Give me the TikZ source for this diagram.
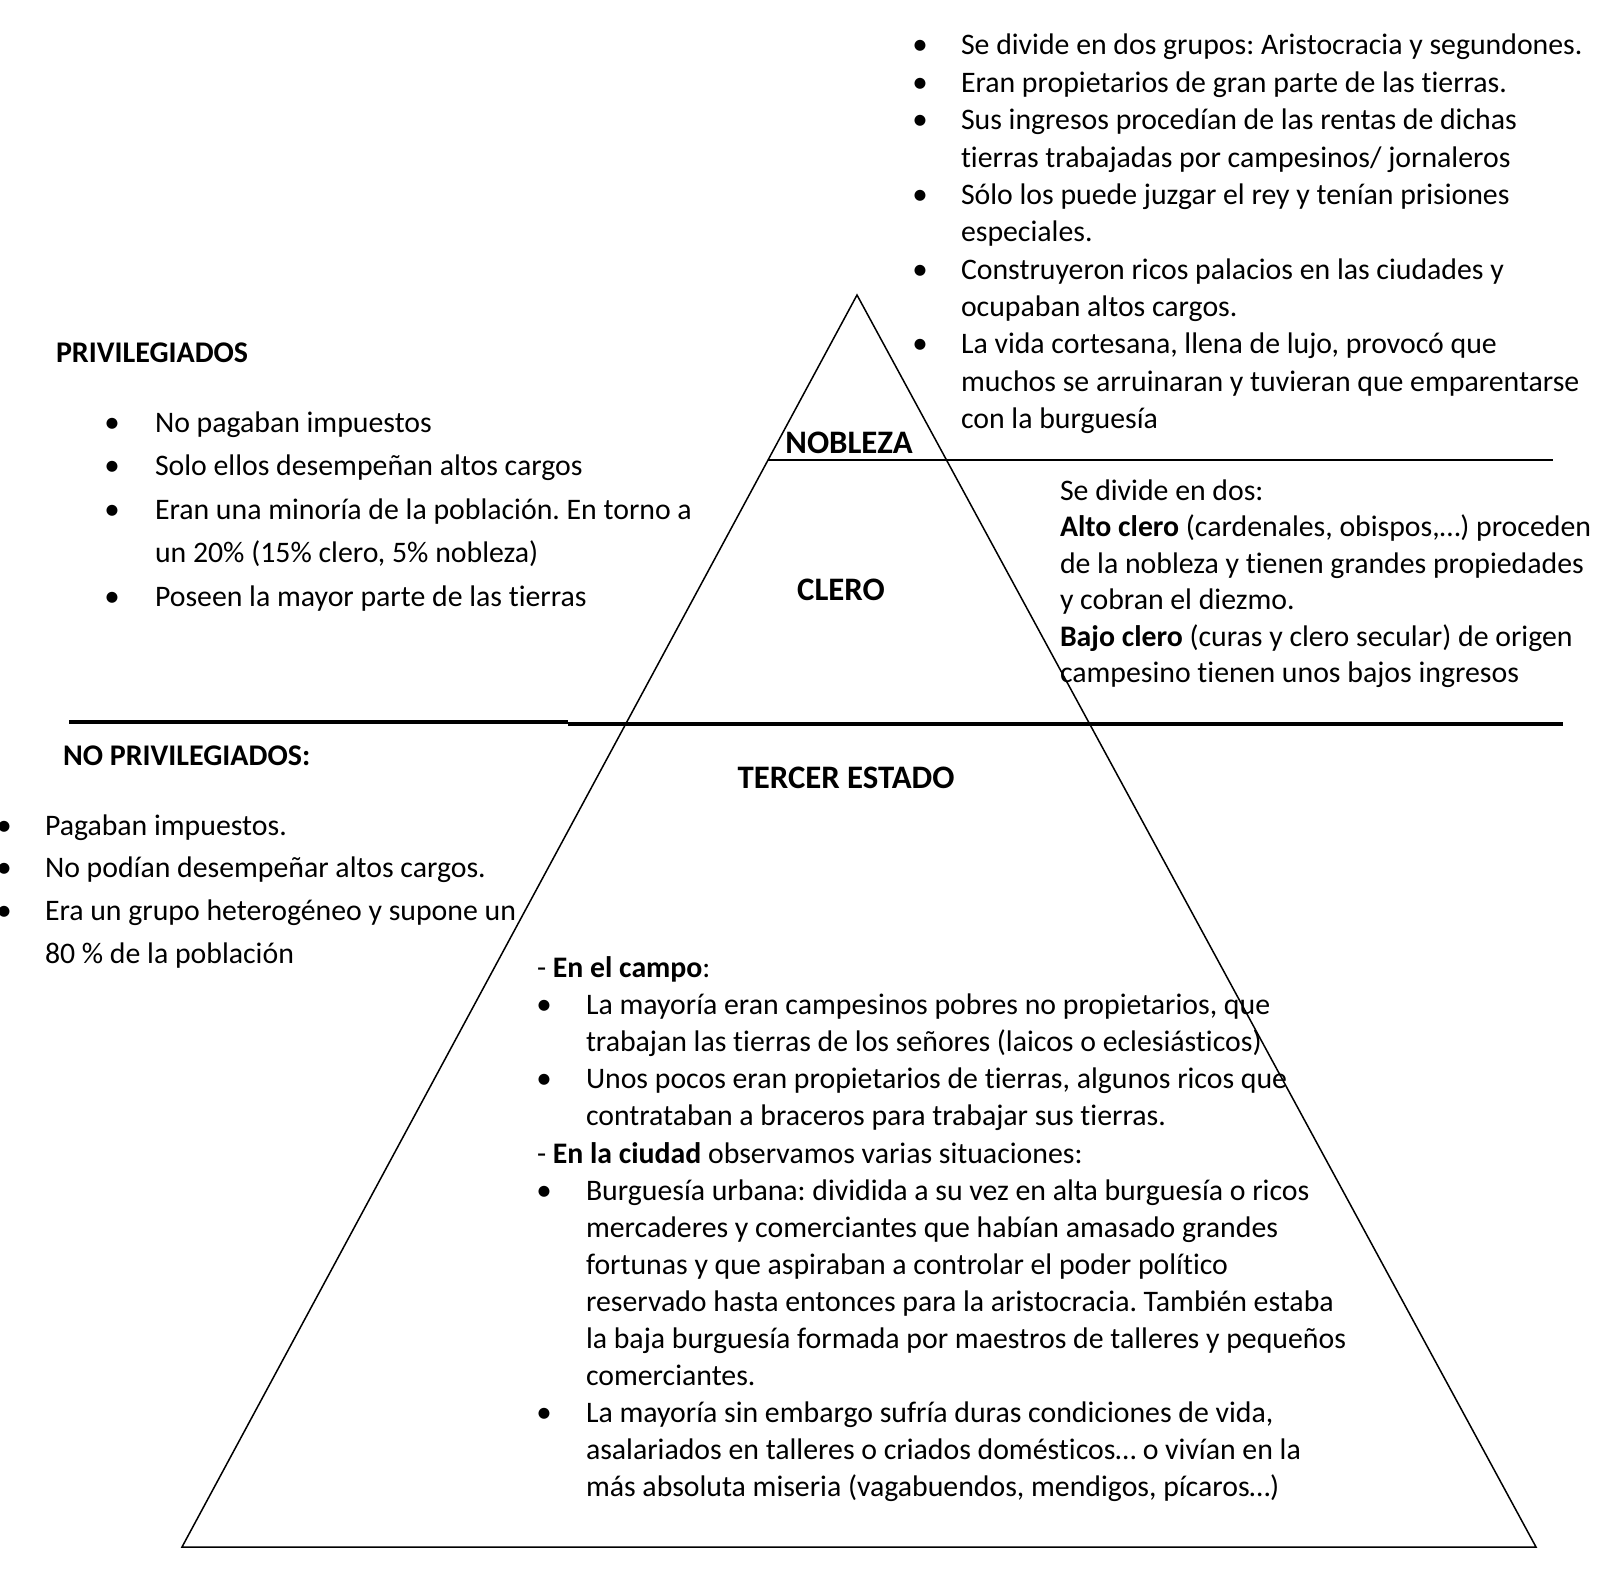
\documentclass[tikz,border=0pt]{standalone}
\usepackage{fontspec}
\setmainfont{Carlito}[Ligatures=NoCommon]
\newcommand\bsym{{\fontsize{31}{31}\selectfont •}}
\newcommand\bitem[1]{\leavevmode\llap{\makebox[0pt]{\bsym}\hspace{#1}}}
\newcommand\blk[2]{\parbox[t]{900pt}{\raggedright\frenchspacing\fontsize{29.8}{#1}\selectfont #2}}
\begin{document}
\begin{tikzpicture}[x=1pt,y=-1pt]
\useasboundingbox (0,0) rectangle (1600,1576);
\tikzset{
  txt/.style={anchor=base west, inner sep=0pt, outer sep=0pt},
  hd/.style={inner sep=0pt, outer sep=0pt, font=\fontsize{30}{32}\selectfont\bfseries},
  hdp/.style={inner sep=0pt, outer sep=0pt, font=\fontsize{32.8}{34}\selectfont\bfseries},
  thin/.style={line width=1.5pt},
  thick/.style={line width=4.5pt}
}
% pyramid
\coordinate (apex) at (857,295);
\coordinate (bleft) at (182,1547);
\coordinate (bright) at (1536,1547);
\draw[thin] (apex) -- (bleft) -- (bright) -- cycle;
% dividing lines
\coordinate (n1) at (768,460);
\coordinate (n2) at (1553,460);
\draw[thin] (n1) -- (n2);
\coordinate (t1) at (69,722);
\coordinate (t2) at (568,722);
\coordinate (t3) at (568,724);
\coordinate (t4) at (1563,724);
\draw[thick] (t1) -- (t2);
\draw[thick] (t3) -- (t4);
% labels in pyramid
\node[hdp, anchor=base] (nobleza) at (849,453) {NOBLEZA};
\node[hdp, anchor=base] (clero) at (841,600) {CLERO};
\node[hdp, anchor=base] (tercer) at (846,788) {TERCER ESTADO};
\node[hd, anchor=base west] (priv) at (56,362) {PRIVILEGIADOS};
\node[hd, anchor=base west] (nopriv) at (63,765) {NO PRIVILEGIADOS:};
% top right
\node[txt] (nobtext) at (961,55) {\blk{37.35pt}{%
\bitem{41pt}Se divide en dos grupos: Aristocracia y segundones.\\
\bitem{41pt}Eran propietarios de gran parte de las tierras.\\
\bitem{41pt}Sus ingresos procedían de las rentas de dichas\\
tierras trabajadas por campesinos/ jornaleros\\
\bitem{41pt}Sólo los puede juzgar el rey y tenían prisiones\\
especiales.\\
\bitem{41pt}Construyeron ricos palacios en las ciudades y\\
ocupaban altos cargos.\\
\bitem{41pt}La vida cortesana, llena de lujo, provocó que\\
muchos se arruinaran y tuvieran que emparentarse\\
con la burguesía}};
% privileged
\node[txt] (privtext) at (155,432) {\blk{43.6pt}{%
\bitem{43pt}No pagaban impuestos\\
\bitem{43pt}Solo ellos desempeñan altos cargos\\
\bitem{43pt}Eran una minoría de la población. En torno a\\
un 20\% (15\% clero, 5\% nobleza)\\
\bitem{43pt}Poseen la mayor parte de las tierras}};
% clero text
\node[txt] (clerotext) at (1060,500) {\blk{36.5pt}{%
Se divide en dos:\\
\textbf{Alto clero} (cardenales, obispos,…) proceden\\
de la nobleza y tienen grandes propiedades\\
y cobran el diezmo.\\
\textbf{Bajo clero} (curas y clero secular) de origen\\
campesino tienen unos bajos ingresos}};
% no privileged
\node[txt] (noprivtext) at (45,835) {\blk{42.9pt}{%
\bitem{41pt}Pagaban impuestos.\\
\bitem{41pt}No podían desempeñar altos cargos.\\
\bitem{41pt}Era un grupo heterogéneo y supone un\\
80 \% de la población}};
% tercer estado text
\node[txt] (tercertext) at (586,977.5) {\blk{37.1pt}{%
\leavevmode\hspace*{-49pt}- \textbf{En el campo}:\\
\bitem{42pt}La mayoría eran campesinos pobres no propietarios, que\\
trabajan las tierras de los señores (laicos o eclesiásticos)\\
\bitem{42pt}Unos pocos eran propietarios de tierras, algunos ricos que\\
contrataban a braceros para trabajar sus tierras.\\
\leavevmode\hspace*{-49pt}- \textbf{En la ciudad} observamos varias situaciones:\\
\bitem{42pt}Burguesía urbana: dividida a su vez en alta burguesía o ricos\\
mercaderes y comerciantes que habían amasado grandes\\
fortunas y que aspiraban a controlar el poder político\\
reservado hasta entonces para la aristocracia. También estaba\\
la baja burguesía formada por maestros de talleres y pequeños\\
comerciantes.\\
\bitem{42pt}La mayoría sin embargo sufría duras condiciones de vida,\\
asalariados en talleres o criados domésticos… o vivían en la\\
más absoluta miseria (vagabuendos, mendigos, pícaros…)}};
\end{tikzpicture}
\end{document}
